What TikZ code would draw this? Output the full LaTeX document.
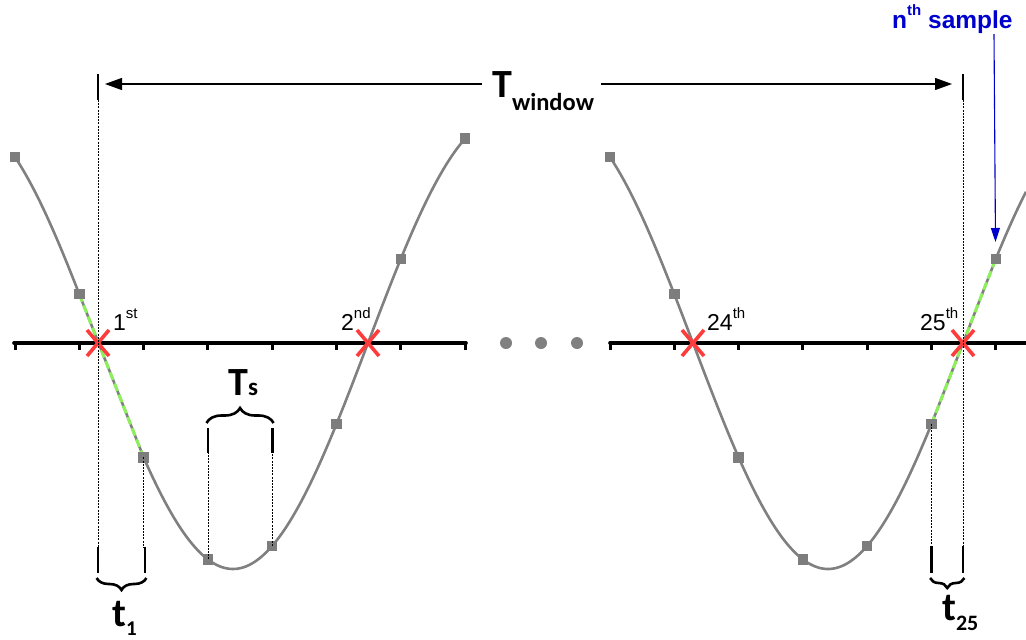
\documentclass[tikz,border=0pt]{standalone}
\usepackage{fontspec}
\setmainfont{Liberation Sans}
\newfontfamily\calb{Carlito}
\usetikzlibrary{arrows.meta,decorations.pathreplacing}
\definecolor{cgray}{RGB}{128,128,128}
\definecolor{sgray}{RGB}{125,125,125}
\definecolor{xred}{RGB}{255,60,60}
\definecolor{lgreen}{RGB}{140,240,90}
\definecolor{nblue}{RGB}{0,0,205}
\newcommand\sups[1]{\raisebox{0.5em}{\fontsize{15}{15}\selectfont #1}}
\begin{document}
\begin{tikzpicture}[x=1pt,y=-1pt,
  curve/.style={draw=cgray, line width=2.6pt},
  samp/.style={fill=sgray, rectangle, minimum size=10.5pt, inner sep=0pt},
  axisline/.style={line width=3.6pt, line cap=round},
  tickmark/.style={line width=3pt},
  guide/.style={line width=0.8pt, dash pattern=on 2pt off 1.2pt},
  bar/.style={line width=2.6pt},
  xmark/.style={draw=xred, line width=3.6pt},
  interp/.style={draw=lgreen, line width=3pt, dash pattern=on 8pt off 4pt},
  lab/.style={inner sep=0pt, anchor=base west},
  ordlab/.style={lab, font=\fontsize{23}{23}\selectfont},
  brc/.style={decorate, line width=2.6pt},
  dim/.style={line width=1.2pt, -{Triangle[length=17pt,width=12pt]}},
]
\useasboundingbox (0,0) rectangle (1026,640);

% axes
\draw[axisline] (14,343) -- (466,343);
\draw[axisline] (610,343) -- (1026,343);
\foreach \k in {0,...,7}{
  \draw[tickmark] ({15+64.3*\k},343) -- ({15+64.3*\k},350);
}
\foreach \k in {0,...,6}{
  \draw[tickmark] ({610+64.3*\k},343) -- ({610+64.3*\k},350);
}

% ellipsis dots
\foreach \xx/\nm in {506/d1,541/d2,577/d3}{
  \node[circle, fill=cgray, minimum size=12pt, inner sep=0pt] (\nm) at (\xx,343) {};
}

% sample nodes
\foreach \k in {0,...,7}{
  \pgfmathsetmacro\xx{15+64.3*\k}
  \pgfmathsetmacro\yy{343+226*cos((\xx-233)/1.5)}
  \coordinate (L\k) at (\xx,\yy);
}
\foreach \k in {0,...,6}{
  \pgfmathsetmacro\xx{15+64.3*\k}
  \pgfmathsetmacro\yy{343+226*cos((\xx-233)/1.5)}
  \coordinate (R\k) at (\xx+595,\yy);
}

% curves
\draw[curve] plot[domain=15:79.3, samples=30] (\x,{343+226*cos((\x-233)/1.5)})
  -- plot[domain=143.6:465.1, samples=120] (\x,{343+226*cos((\x-233)/1.5)});
\draw[curve] plot[domain=610:931.5, samples=120] (\x,{343+226*cos((\x-828)/1.5)})
  -- plot[domain=995.8:1026, samples=20] (\x,{343+226*cos((\x-828)/1.5)});

% linear interpolation (green dashed)
\draw[interp] (L1) -- (L2);
\draw[interp] (R5) -- (R6);

\foreach \k in {0,...,7}{ \node[samp] (sL\k) at (L\k) {}; }
\foreach \k in {0,...,6}{ \node[samp] (sR\k) at (R\k) {}; }

% crossings
\foreach \xx/\nm in {98/c1,368/c2,693/c3,963/c4}{
  \coordinate (\nm) at (\xx,343);
  \draw[xmark] ([shift={(-11,-13)}]\nm) -- ([shift={(11,13)}]\nm);
  \draw[xmark] ([shift={(-11,13)}]\nm) -- ([shift={(11,-13)}]\nm);
}

% guide lines and bars
\coordinate (g1t) at (98,100);  \coordinate (g1b) at (98,547);
\coordinate (g4t) at (963,100); \coordinate (g4b) at (963,547);
\draw[guide] (g1t) -- (g1b);
\draw[guide] (g4t) -- (g4b);
\draw[guide] (sL2.center) -- (sL2.center |- g1b);
\draw[guide] (sR5.center) -- (sR5.center |- g4b);
\draw[guide] (sL3.center) -- (sL3.center |- 0,452);
\draw[guide] (sL4.center) -- (sL4.center |- 0,452);

\draw[bar] (98,74) -- (98,100);
\draw[bar] (963,74) -- (963,100);
\draw[bar] (98,547) -- (98,573);
\draw[bar] (145,547) -- (145,573);
\draw[bar] (207.9,428) -- (207.9,453);
\draw[bar] (272.2,428) -- (272.2,453);
\draw[bar] (931.5,546) -- (931.5,573);
\draw[bar] (963,546) -- (963,573);

% braces
\draw[brc, decoration={brace, amplitude=15pt}] (206.5,423) -- (273.6,423);
\draw[brc, decoration={brace, amplitude=12pt}] (146.4,578) -- (96.6,578);
\draw[brc, decoration={brace, amplitude=10pt}] (964.4,578) -- (930.1,578);

% T_window dimension
\node[lab, font=\calb\bfseries\fontsize{40}{40}\selectfont] (tw) at (492,97)
  {T\raisebox{-13pt}{\fontsize{24.5}{24.5}\selectfont window}};
\coordinate (aLs) at (482,84); \coordinate (aLe) at (105,84);
\coordinate (aRs) at (601,84); \coordinate (aRe) at (952,84);
\draw[dim] (aLs) -- (aLe);
\draw[dim] (aRs) -- (aRe);

% Ts, t1, t25
\node[lab, font=\calb\bfseries\fontsize{40}{40}\selectfont] (ts) at (228,395)
  {T{\fontsize{25}{25}\selectfont s}};
\node[lab, font=\calb\bfseries\fontsize{40}{40}\selectfont] (t1) at (112,626)
  {t\raisebox{-9pt}{\fontsize{21}{21}\selectfont 1}};
\node[lab, font=\calb\bfseries\fontsize{40}{40}\selectfont] (t25) at (942,620)
  {t\raisebox{-10pt}{\fontsize{22}{22}\selectfont 25}};

% ordinal labels
\node[ordlab] (o1) at (113,330) {1\sups{st}};
\node[ordlab] (o2) at (341,330) {2\sups{nd}};
\node[ordlab] (o3) at (707,330) {24\sups{th}};
\node[ordlab] (o4) at (920,330) {25\sups{th}};

% n-th sample
\node[lab, text=nblue, font=\bfseries\fontsize{24.5}{24.5}\selectfont] (ns) at (892,28)
  {n\sups{th} sample};
\coordinate (bs) at (994,34); \coordinate (be) at (995.5,242);
\draw[nblue, line width=1.1pt, -{Triangle[length=14pt,width=9pt]}] (bs) -- (be);
\end{tikzpicture}
\end{document}
